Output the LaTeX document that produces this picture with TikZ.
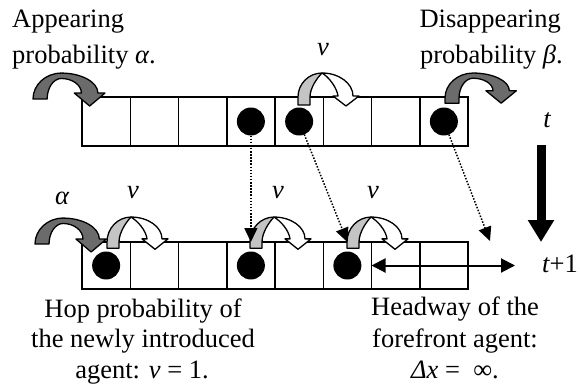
\documentclass[tikz,border=0pt]{standalone}
\usepackage{fontspec}
\setmainfont{Liberation Serif}
\usetikzlibrary{arrows.meta}

\definecolor{darkshade}{gray}{0.42}
\definecolor{lightshade}{gray}{0.77}

\tikzset{
  cell/.style={draw, line width=1.5pt, minimum width=48.25pt, inner sep=0pt, outer sep=0pt},
  agent/.style={circle, fill=black, minimum size=28pt, inner sep=0pt, outer sep=0pt},
  lbl/.style={font=\fontsize{26.5}{30}\selectfont, inner sep=0pt},
  trace/.style={line width=1.5pt, dash pattern=on 1.5pt off 1.6pt,
    -{Triangle[length=14pt,width=13pt]}},
  span/.style={line width=2pt, {Triangle[length=14pt,width=14pt]}-{Triangle[length=14pt,width=14pt]}},
  timeflow/.style={line width=9pt, -{Triangle[length=22pt,width=25pt]}},
  bandline/.style={line width=1.3pt, line join=round},
  % two-tone hop arrow: #1 = raise of the head base, #2 = foot extension
  pics/hoparrow/.style 2 args={code={
    \begin{scope}[yscale=-1]
      \filldraw[fill=white, bandline]
        (24,24) .. controls (41,24) and (55,{#1+0.55*(24-#1)}) .. (55,#1)
        -- (61,#1) -- (48,{#1-10}) -- (35,#1) -- (40,#1)
        .. controls (39,{#1+8}) and (31,20) .. (24,24) -- cycle;
      \filldraw[fill=lightshade, bandline]
        (0,-#2) -- (0,0) .. controls (0,13.2) and (10.8,24) .. (24,24)
        .. controls (19,19) and (12,9) .. (12,0) -- (12,-#2) -- cycle;
    \end{scope}
  }},
  % one-tone curved arrow for entering / leaving the lattice
  pics/bigarrow/.style 2 args={code={
    \begin{scope}[yscale=-1]
      \filldraw[fill=darkshade, bandline]
        (0,-#2) -- (0,0) .. controls (0,13.2) and (10.8,24) .. (24,24)
        .. controls (41,24) and (55,{#1+0.55*(24-#1)}) .. (55,#1)
        -- (61,#1) -- (48,{#1-12}) -- (35,#1) -- (41,#1)
        .. controls (41,{#1+0.55*(19-#1)}) and (33.4,19) .. (24,19)
        .. controls (17.4,19) and (12,10.5) .. (12,0) -- (12,-#2) -- cycle;
    \end{scope}
  }},
}

\begin{document}
\begin{tikzpicture}[x=1pt, y=-1pt]
  \path[fill=white, use as bounding box] (0,0) rectangle (580,388);

  % lattice at time t and at time t+1
  \foreach \i in {1,...,8} {
    \node[cell, minimum height=49pt] (t\i) at ({82+48.25*(\i-0.5)}, 121.5) {};
    \node[cell, minimum height=47pt] (b\i) at ({82+48.25*(\i-0.5)}, 265.5) {};
  }

  % curved arrows
  \pic[xscale=1.18, yscale=1.08] (appearTop) at (33,99) {bigarrow={5.5}{0}};
  \pic (hopTop) at (298,97) {hoparrow={1}{8}};
  \pic[xscale=1.17, yscale=1.04] (leaveTop) at (445,98) {bigarrow={7}{5}};
  \pic[xscale=1.17, yscale=1.08] (appearBot) at (35,244) {bigarrow={4.6}{0}};
  \pic[yscale=1.04] (hopB1) at (107,242) {hoparrow={3}{6}};
  \pic[yscale=1.04] (hopB4) at (250,242) {hoparrow={3}{6}};
  \pic[yscale=1.04] (hopB6) at (347,242) {hoparrow={3}{6}};

  % agents
  \node[agent] (u4) at (t4.center) {};
  \node[agent] (u5) at (t5.center) {};
  \node[agent] (u8) at (t8.center) {};
  \node[agent] (w1) at (b1.center) {};
  \node[agent] (w4) at (b4.center) {};
  \node[agent] (w6) at (b6.center) {};

  % where each agent goes
  \coordinate (gone) at (490,241);
  \draw[trace] (u4) -- (b4.north);
  \draw[trace] (u5) -- (b6.north);
  \draw[trace] (u8) -- (gone);

  % headway of the forefront agent
  \coordinate (far) at (515,265.5);
  \draw[span] (b7.west) -- (far);

  % time step
  \coordinate (tTop) at (541,145);
  \coordinate (tBot) at (541,242);
  \draw[timeflow] (tTop) -- (tBot);
  \node[lbl, anchor=base] (tNow) at (547,127) {\itshape t};
  \node[lbl, anchor=base west] (tNext) at (542,272) {{\itshape t}+1};

  % hop labels
  \node[lbl, anchor=base] (vTop) at (323,55) {\itshape v};
  \node[lbl, anchor=base] (vB1) at (133,198) {\itshape v};
  \node[lbl, anchor=base] (vB4) at (278,198) {\itshape v};
  \node[lbl, anchor=base] (vB6) at (373,198) {\itshape v};
  \node[lbl, anchor=base] (alphaBot) at (62,204) {\itshape α};

  % descriptions
  \node[lbl, anchor=base west] (ap1) at (12,27) {Appearing};
  \node[lbl, anchor=base west] (ap2) at (12,63) {probability {\itshape α}.};
  \node[lbl, anchor=base east] (dp1) at (561,27) {Disappearing};
  \node[lbl, anchor=base east] (dp2) at (563,63) {probability {\itshape β}.};

  \node[lbl, anchor=base] (hp1) at (143,317) {Hop probability of};
  \node[lbl, anchor=base] (hp2) at (143,347) {the newly introduced};
  \node[lbl, anchor=base] (hp3) at (142,378) {agent: {\itshape v} = 1.};

  \node[lbl, anchor=base] (hw1) at (455,315) {Headway of the};
  \node[lbl, anchor=base] (hw2) at (455,347) {forefront agent:};
  \node[lbl, anchor=base] (hw3) at (455,378) {{\itshape Δx} = \hspace{0.25em}∞.};
\end{tikzpicture}
\end{document}
